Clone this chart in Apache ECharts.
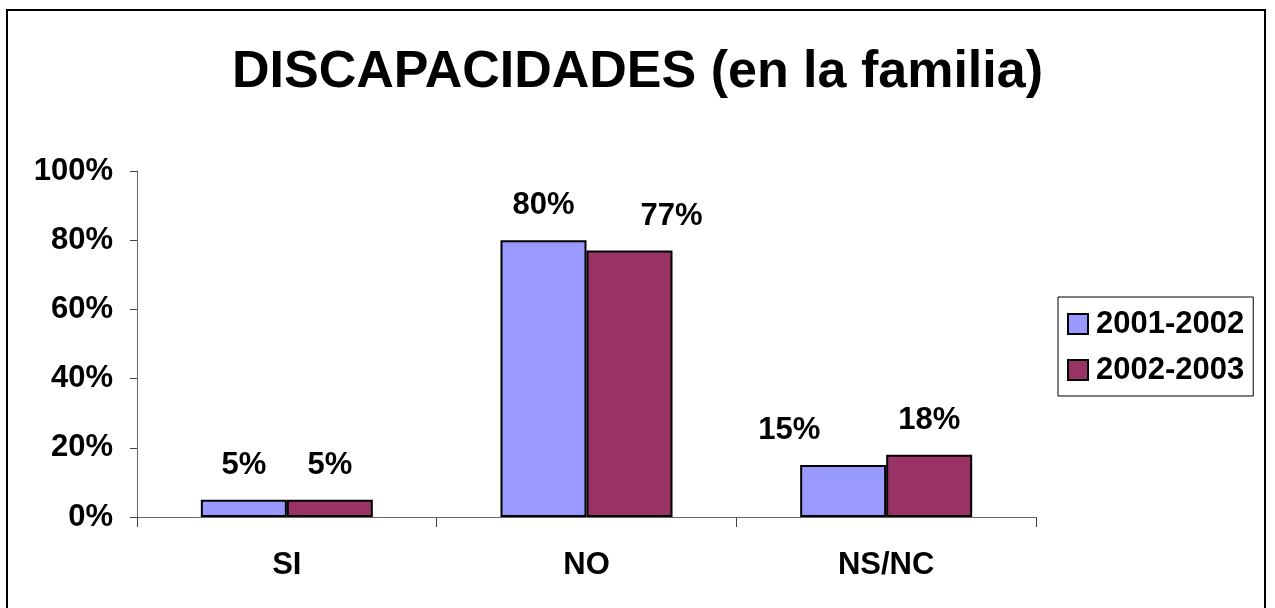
<!DOCTYPE html>
<html>
<head>
<meta charset="utf-8">
<style>
  html, body { margin: 0; padding: 0; background: #fff; }
  #chart { width: 1275px; height: 608px; }
</style>
<script src="https://cdn.jsdelivr.net/npm/echarts@6/dist/echarts.min.js"></script>
</head>
<body>
<div id="chart"></div>
<script>
// Disability in the family, by school year
const categories = ['SI', 'NO', 'NS/NC'];
const seriesNames = ['2001-2002', '2002-2003'];
const values2001 = [5, 80, 15];
const values2002 = [5, 77, 18];
const yTicks = [0, 20, 40, 60, 80, 100];

// horizontal nudges of the value labels, per category
const labelShift2001 = [0, 0, -54];
const labelShift2002 = [0, 42, 0];

const FONT = '"Liberation Sans", Arial, Helvetica, sans-serif';
const LABEL_SIZE = 31;
const chart = echarts.init(document.getElementById('chart'), null, { renderer: 'canvas' });

function barData(vals, shifts) {
  return vals.map((v, i) => ({ value: v, label: { offset: [shifts[i], 0] } }));
}

const labelStyle = {
  show: true,
  position: 'top',
  distance: 19,
  formatter: '{c}%',
  color: '#000',
  fontFamily: FONT,
  fontWeight: 'bold',
  fontSize: LABEL_SIZE
};

chart.setOption({
  backgroundColor: '#fff',
  animation: false,
  graphic: [{
    type: 'rect',
    shape: { x: 7, y: 10, width: 1258, height: 700 },
    style: { fill: 'none', stroke: '#000', lineWidth: 2 },
    silent: true
  }],
  title: {
    text: 'DISCAPACIDADES (en la familia)',
    left: 'center',
    top: 42,
    textStyle: { fontFamily: FONT, fontWeight: 'bold', fontSize: 52, color: '#000' }
  },
  legend: {
    orient: 'vertical',
    left: 1058,
    top: 297,
    padding: [11, 9, 10, 9],
    itemGap: 14,
    itemWidth: 20,
    itemHeight: 20,
    icon: 'rect',
    borderColor: '#000',
    borderWidth: 1,
    itemStyle: { borderColor: '#000', borderWidth: 2 },
    textStyle: { fontFamily: FONT, fontWeight: 'bold', fontSize: LABEL_SIZE, color: '#000', lineHeight: 32, padding: [0, 0, 0, 3] },
    data: seriesNames
  },
  grid: { left: 137, right: 239, top: 171, bottom: 91, containLabel: false },
  xAxis: {
    type: 'category',
    data: categories,
    axisLine: { lineStyle: { color: '#666', width: 1 } },
    axisTick: { show: true, length: 10, lineStyle: { color: '#444' } },
    axisLabel: { margin: 33, color: '#000', fontFamily: FONT, fontWeight: 'bold', fontSize: LABEL_SIZE }
  },
  yAxis: {
    type: 'value',
    min: yTicks[0],
    max: yTicks[yTicks.length - 1],
    interval: yTicks[1] - yTicks[0],
    splitLine: { show: false },
    axisLine: { show: true, lineStyle: { color: '#666', width: 1 } },
    axisTick: { show: true, length: 7, lineStyle: { color: '#444' } },
    axisLabel: { margin: 24, formatter: '{value}%', color: '#000', fontFamily: FONT, fontWeight: 'bold', fontSize: LABEL_SIZE }
  },
  series: [
    {
      name: seriesNames[0],
      type: 'bar',
      barWidth: 86,
      barGap: '0%',
      data: barData(values2001, labelShift2001),
      itemStyle: { color: '#9999FF', borderColor: '#000', borderWidth: 2 },
      label: labelStyle
    },
    {
      name: seriesNames[1],
      type: 'bar',
      barWidth: 86,
      barGap: '0%',
      data: barData(values2002, labelShift2002),
      itemStyle: { color: '#993366', borderColor: '#000', borderWidth: 2 },
      label: labelStyle
    }
  ]
});
</script>
</body>
</html>
